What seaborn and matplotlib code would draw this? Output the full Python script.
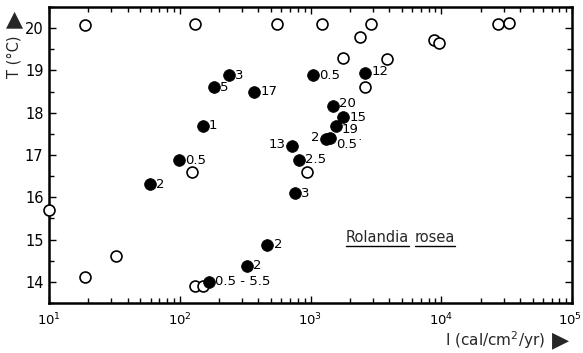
import matplotlib
matplotlib.use("Agg")
import matplotlib.pyplot as plt
import seaborn as sns
import pandas as pd
from matplotlib.ticker import LogLocator, FixedLocator, NullFormatter
from matplotlib.lines import Line2D
from matplotlib.transforms import ScaledTranslation

# ---- data ----
open_I = [18.8, 131, 551, 1231, 2886, 27000, 33100, 2390, 1780, 3870, 8800, 9650,
          2610, 123, 935, 10, 32.5, 18.8, 131, 151]
open_T = [20.07, 20.09, 20.09, 20.09, 20.09, 20.09, 20.12, 19.80, 19.29, 19.26, 19.73, 19.66,
          18.60, 16.60, 16.60, 15.70, 14.62, 14.11, 13.90, 13.90]

filled_I = [238, 183, 372, 150, 98.6, 59.2, 1040, 2610, 1486, 1782, 1559, 1314, 1409,
            718, 817, 761, 468, 325, 168]
filled_T = [18.89, 18.60, 18.50, 17.69, 16.88, 16.31, 18.89, 18.93, 18.16, 17.90, 17.68, 17.39, 17.40,
            17.21, 16.89, 16.09, 14.88, 14.38, 14.00]
filled_labels = ["3", "5", "17", "1", "0.5", "2", "0.5", "12", "20", "15", "19", "2", "0.5\u02d9",
                 "13", "2.5", "3", "2", "2", "0.5 - 5.5"]

x_ticks = [1e1, 1e2, 1e3, 1e4, 1e5]
x_ticklabels = ["$10^1$", "$10^2$", "$10^3$", "$10^4$", "$10^5$"]
y_ticks = [14, 15, 16, 17, 18, 19, 20]
y_ticklabels = ["14", "15", "16", "17", "18", "19", "20"]
species = ["Rolandia", "rosea"]
x_label = "I (cal/cm$^2$/yr)"
y_label = "T (\u00b0C)"

# ---- style ----
sns.set_style("ticks")
plt.rcParams["font.family"] = ["DejaVu Sans"]
plt.rcParams["mathtext.fontset"] = "dejavusans"

W, H = 583, 353
fig = plt.figure(figsize=(W / 100, H / 100), dpi=100)
ax = fig.add_axes([49 / W, 1 - 303 / H, (572 - 49) / W, (303 - 7) / H])

df_open = pd.DataFrame({"I": open_I, "T": open_T})
df_fill = pd.DataFrame({"I": filled_I, "T": filled_T, "lab": filled_labels})

sns.scatterplot(data=df_open, x="I", y="T", ax=ax, marker="o", s=62,
                facecolor="white", edgecolor="black", linewidth=1.2, zorder=3, clip_on=False)
sns.scatterplot(data=df_fill, x="I", y="T", ax=ax, marker="o", s=72,
                color="black", edgecolor="black", linewidth=0.5, zorder=4, clip_on=False)

ax.set_xscale("log")
ax.set_xlim(10, 1e5)
ax.set_ylim(13.53, 20.5)

# point labels (offsets are layout only)
left_labels = {11: (-4.5, 1), 13: (-4.5, 1)}
nudge = {12: (4.5, -4.5), 10: (4.5, -2.5), 7: (4.5, 1), 8: (4.5, 1.5), 9: (4.5, -0.5)}
for i, (xv, yv, lab) in enumerate(zip(filled_I, filled_T, filled_labels)):
    if i in left_labels:
        dx, dy = left_labels[i]
        ha = "right"
    else:
        dx, dy = nudge.get(i, (4.5, 0))
        ha = "left"
    ax.annotate(lab, (xv, yv), xytext=(dx, dy), textcoords="offset points",
                ha=ha, va="center", fontsize=9.5, color="black", zorder=5)

# ticks
ax.xaxis.set_major_locator(FixedLocator(x_ticks))
ax.set_xticklabels(x_ticklabels)
ax.xaxis.set_minor_locator(LogLocator(base=10, subs=range(2, 10), numticks=20))
ax.xaxis.set_minor_formatter(NullFormatter())
ax.set_yticks(y_ticks)
ax.set_yticklabels(y_ticklabels)
ax.set_yticks([13.5 + 0.5 * k for k in range(15) if (13.5 + 0.5 * k) % 1 != 0], minor=True)

ax.tick_params(axis="both", which="both", direction="in", top=True, right=True,
               colors="black", width=1.0)
ax.tick_params(axis="x", labelsize=9.5, pad=6)
ax.tick_params(axis="y", labelsize=10.5, pad=4)
ax.tick_params(axis="both", which="major", length=5)
ax.tick_params(axis="both", which="minor", length=3.5)
last = ax.get_xticklabels()[-1]
last.set_horizontalalignment("right")
last.set_transform(last.get_transform() + ScaledTranslation(10 / 100, 0, fig.dpi_scale_trans))
for sp in ax.spines.values():
    sp.set_visible(True)
    sp.set_color("black")
    sp.set_linewidth(1.8)
ax.set_xlabel("")
ax.set_ylabel("")

# axis titles with arrow heads
fig.text(445 / W, 1 - 340 / H, x_label, ha="left", va="center", fontsize=11)
fig.text(561 / W, 1 - 340 / H, "\u25b6", ha="center", va="center", fontsize=16)
fig.text(14 / W, 1 - 57 / H, y_label, ha="center", va="center", rotation=90, fontsize=10.5)
fig.text(14 / W, 1 - 19 / H, "\u25b2", ha="center", va="center", fontsize=16)

# species name, underlined word by word
t1 = ax.annotate(species[0], (1858, 15.06), ha="left", va="center", fontsize=10.5)
fig.canvas.draw()
r = fig.canvas.get_renderer()
bb1 = t1.get_window_extent(r)
t2 = ax.annotate(species[1], (bb1.x1 + 6, (bb1.y0 + bb1.y1) / 2), xycoords="figure pixels",
                 ha="left", va="center", fontsize=10.5)
fig.canvas.draw()
for t in (t1, t2):
    bb = t.get_window_extent(r)
    yline = bb.y0 - 1
    fig.add_artist(Line2D([bb.x0 / W, bb.x1 / W], [yline / H, yline / H],
                          transform=fig.transFigure, color="black", linewidth=1.0))

fig.savefig("out.png", dpi=100)
